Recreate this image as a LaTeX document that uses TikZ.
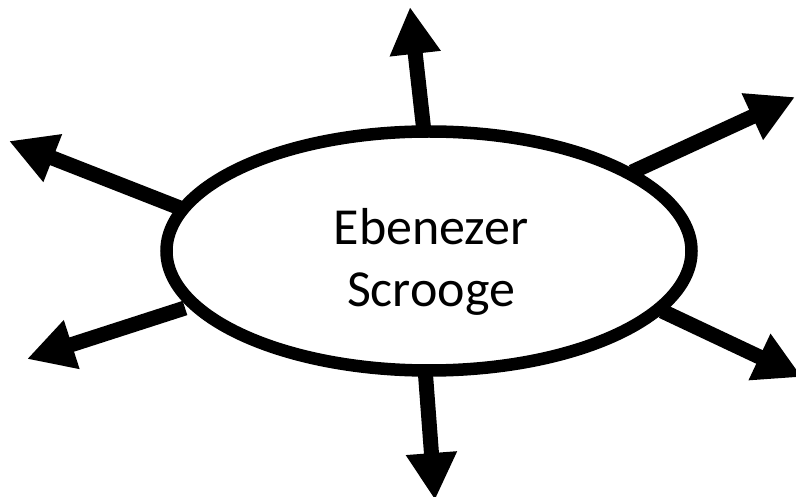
\documentclass[tikz,border=0pt]{standalone}
\usepackage{fontspec}
\setmainfont{Carlito}
\usetikzlibrary{shapes.geometric,arrows.meta}
\tikzset{
  bubble/.style={ellipse, draw=black, fill=white, line width=12.5pt,
    minimum width=525pt, minimum height=239pt, inner sep=0pt},
  caption/.style={align=center, font=\fontsize{52}{62}\selectfont},
  spoke/.style={line width=15pt, -{Triangle[length=47pt,width=48pt]}}
}
\begin{document}
\begin{tikzpicture}[x=1pt,y=-1pt]
  \useasboundingbox (0,0) rectangle (796,497);

  % spokes: start point on the ellipse, free tip outside
  \coordinate (s1) at (424,132); \coordinate (t1) at (410,7);
  \coordinate (s2) at (632,172); \coordinate (t2) at (795,97);
  \coordinate (s3) at (180,208); \coordinate (t3) at (9,141);
  \coordinate (s4) at (185,308); \coordinate (t4) at (27,359);
  \coordinate (s5) at (662,311); \coordinate (t5) at (802,377);
  \coordinate (s6) at (425,368); \coordinate (t6) at (435,500);

  \foreach \i in {1,...,6} \draw[spoke] (s\i) -- (t\i);

  % central ellipse and its name
  \node[bubble] (hub) at (429,251) {};
  \node[caption] (name) at (431,262) {Ebenezer\\Scrooge};
\end{tikzpicture}
\end{document}
